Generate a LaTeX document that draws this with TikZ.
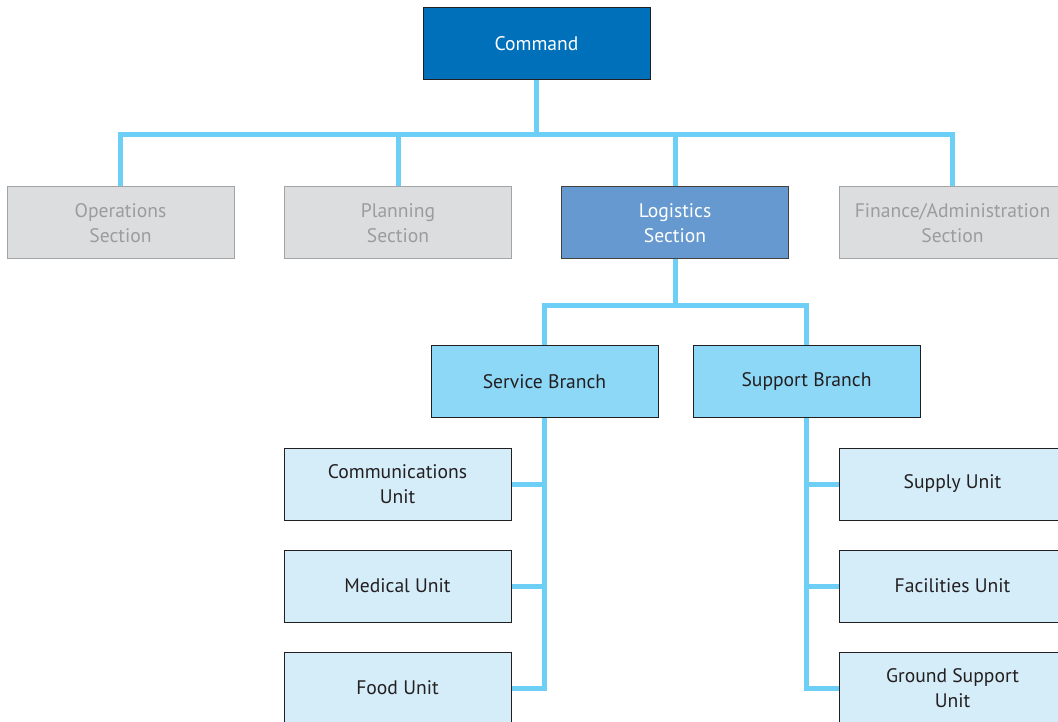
\documentclass[tikz,border=0pt]{standalone}
\usepackage{fontspec}
\setmainfont{PT Sans}
\definecolor{cmdblue}{HTML}{0070BA}
\definecolor{secgray}{HTML}{DCDDDE}
\definecolor{secedge}{HTML}{A3A4A6}
\definecolor{sectext}{HTML}{9B9C9E}
\definecolor{logblue}{HTML}{6699CF}
\definecolor{branchblue}{HTML}{8ED8F7}
\definecolor{unitblue}{HTML}{D5ECF9}
\definecolor{linkblue}{HTML}{6DCFF6}
\definecolor{ink}{HTML}{231F20}
\tikzset{
  box/.style={draw=ink, line width=1pt, minimum width=227pt, minimum height=72pt,
    inner sep=0pt, align=center, font=\fontsize{19.6}{24.5}\selectfont, text=ink},
  cmdbox/.style={box, fill=cmdblue, text=white},
  secbox/.style={box, fill=secgray, draw=secedge, text=sectext},
  logbox/.style={box, fill=logblue, text=white, draw=ink!85},
  branchbox/.style={box, fill=branchblue},
  unitbox/.style={box, fill=unitblue},
  link/.style={draw=linkblue, line width=5pt, line join=miter}
}
\begin{document}
\begin{tikzpicture}[x=1pt, y=-1pt]
  \useasboundingbox (0,0) rectangle (1058,722);
  \clip (0,0) rectangle (1058,722);

  % boxes
  \node[cmdbox] (cmd) at (536.5,43.5) {Command};
  \node[secbox] (ops) at (120.5,223) {Operations\\Section};
  \node[secbox] (plan) at (398,223) {Planning\\Section};
  \node[logbox] (log) at (675,223) {Logistics\\Section};
  \node[secbox] (fin) at (952.5,223) {Finance/Administration\\Section};
  \node[branchbox] (svc) at (544.5,381.5) {Service Branch};
  \node[branchbox] (sup) at (806.5,381.5) {Support Branch};
  \node[unitbox] (comm) at (397.5,484) {Communications\\Unit};
  \node[unitbox] (med) at (397.5,586) {Medical Unit};
  \node[unitbox] (food) at (397.5,688) {Food Unit};
  \node[unitbox] (supply) at (952.5,484) {Supply Unit};
  \node[unitbox] (fac) at (952.5,586) {Facilities Unit};
  \node[unitbox] (gnd) at (952.5,688) {Ground Support\\Unit};

  % command to sections
  \coordinate (bus) at (536.5,135);
  \draw[link] (cmd.south) -- (bus);
  \draw[link] (ops.north) |- (fin.north |- bus) -- (fin.north);
  \draw[link] (plan.north) -- (plan.north |- bus);
  \draw[link] (log.north) -- (log.north |- bus);

  % logistics to branches
  \coordinate (lbus) at (675,305);
  \draw[link] (log.south) -- (lbus);
  \draw[link] (svc.north) |- (sup.north |- lbus) -- (sup.north);

  % service branch units
  \draw[link] (svc.south) |- (food.east);
  \draw[link] (comm.east) -- (comm.east -| svc.south);
  \draw[link] (med.east) -- (med.east -| svc.south);

  % support branch units
  \draw[link] (sup.south) |- (gnd.west);
  \draw[link] (supply.west) -- (supply.west -| sup.south);
  \draw[link] (fac.west) -- (fac.west -| sup.south);
\end{tikzpicture}
\end{document}
